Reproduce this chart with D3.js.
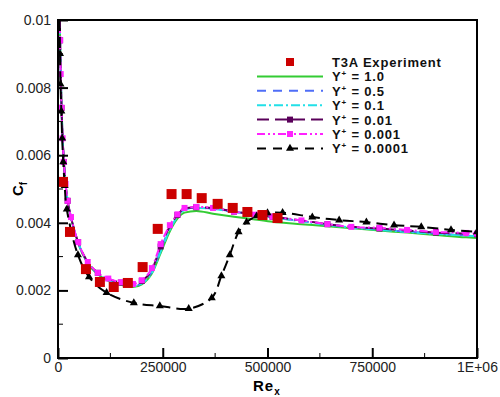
<!DOCTYPE html>
<html><head><meta charset="utf-8">
<script src="https://cdn.jsdelivr.net/npm/d3@7/dist/d3.min.js"></script>
<style>body{margin:0;background:#fff}svg{display:block}</style>
</head><body>
<svg id="c" width="500" height="397"></svg>
<script>
// ---- data (Cf values in units of 1e-3) ----
const expRe = [11900, 28600, 66700, 100000, 133000, 166700, 202000, 238000, 271000, 307000, 343000, 381000, 417000, 452000, 488000, 524000];
const expCf = [5.21, 3.73, 2.63, 2.25, 2.10, 2.22, 2.69, 3.82, 4.85, 4.85, 4.73, 4.56, 4.44, 4.32, 4.23, 4.14];

const famRe = [4400, 5000, 6500, 8500, 11000, 14000, 18000, 23000, 31000, 48000, 71000, 95000, 120000, 150000, 179000, 200000, 224000, 245000, 267000, 285000, 302000, 330000, 370000, 420000, 470000, 512000, 581000, 643000, 700000, 767000, 833000, 902000, 974000, 1000000];
const cfY1     = [10.0, 9.4, 8.4, 7.4, 6.5, 5.8, 5.15, 4.65, 4.15, 3.40, 2.80, 2.48, 2.28, 2.16, 2.10, 2.18, 2.50, 3.10, 3.75, 4.12, 4.30, 4.35, 4.27, 4.18, 4.10, 4.03, 3.96, 3.90, 3.84, 3.77, 3.71, 3.64, 3.57, 3.55];
const cfY05    = [10.0, 9.4, 8.4, 7.4, 6.5, 5.8, 5.15, 4.65, 4.16, 3.42, 2.82, 2.50, 2.31, 2.19, 2.12, 2.22, 2.55, 3.20, 3.85, 4.22, 4.40, 4.45, 4.42, 4.33, 4.24, 4.17, 4.05, 3.95, 3.87, 3.80, 3.74, 3.68, 3.63, 3.61];
const cfY01    = [10.0, 9.4, 8.4, 7.4, 6.5, 5.8, 5.15, 4.65, 4.16, 3.42, 2.82, 2.50, 2.31, 2.19, 2.12, 2.21, 2.52, 3.15, 3.80, 4.18, 4.38, 4.44, 4.41, 4.32, 4.23, 4.16, 4.04, 3.94, 3.86, 3.79, 3.73, 3.67, 3.62, 3.60];
const cfY001   = [10.0, 9.4, 8.4, 7.4, 6.5, 5.8, 5.15, 4.65, 4.17, 3.43, 2.84, 2.52, 2.34, 2.23, 2.18, 2.28, 2.60, 3.30, 3.90, 4.23, 4.42, 4.46, 4.44, 4.33, 4.25, 4.18, 4.07, 3.96, 3.88, 3.83, 3.77, 3.71, 3.68, 3.66];
const cfY0001  = [10.0, 9.4, 8.4, 7.4, 6.5, 5.8, 5.15, 4.65, 4.17, 3.43, 2.84, 2.52, 2.35, 2.24, 2.19, 2.30, 2.66, 3.37, 3.93, 4.25, 4.44, 4.47, 4.44, 4.33, 4.24, 4.18, 4.07, 3.96, 3.88, 3.85, 3.79, 3.73, 3.70, 3.68];

const blkRe = [4000, 4800, 6000, 8000, 10000, 12500, 16000, 21000, 47600, 74000, 116000, 181000, 243000, 312000, 367000, 390000, 410000, 431000, 450000, 474000, 500000, 536000, 607000, 671000, 736000, 802000, 867000, 938000, 1000000];
const blkCf = [10.0, 9.0, 8.1, 7.3, 6.5, 5.8, 5.1, 4.4, 3.05, 2.40, 1.93, 1.63, 1.54, 1.46, 1.78, 2.43, 3.05, 3.73, 4.02, 4.20, 4.29, 4.30, 4.17, 4.08, 4.02, 3.93, 3.88, 3.79, 3.73];

const xTicks = [0, 250000, 500000, 750000, 1000000];
const xTickLabels = ["0", "250000", "500000", "750000", "1E+06"];
const yTicks = [0, 0.002, 0.004, 0.006, 0.008, 0.01];
const yTickLabels = ["0", "0.002", "0.004", "0.006", "0.008", "0.01"];
const legendLabels = ["T3A Experiment", "1.0", "0.5", "0.1", "0.01", "0.001", "0.0001"];

// ---- layout ----
const L = 58, R = 477, T = 20, B = 358;
const svg = d3.select("#c");
const x = d3.scaleLinear().domain([0, 1e6]).range([L, R]);
const y = d3.scaleLinear().domain([0, 0.01]).range([B, T]);
const font = "Arial, 'Liberation Sans', Helvetica, sans-serif";

svg.append("clipPath").attr("id", "pc").append("rect")
  .attr("x", L).attr("y", T).attr("width", R - L).attr("height", B - T);

const series = [
  {cf: cfY1,    color: "#33cc33", dash: null,            marker: null},
  {cf: cfY05,   color: "#4f6ef7", dash: "9,7",           marker: null},
  {cf: cfY01,   color: "#22e0e8", dash: "9,3,2,3",       marker: null},
  {cf: cfY001,  color: "#5a005a", dash: "12,6",          marker: "sq", every: 2, offset: 1},
  {cf: cfY0001, color: "#ff22ff", dash: "8,3,2,3,2,3",   marker: "sq", every: 1, offset: 0},
];

const g = svg.append("g").attr("clip-path", "url(#pc)");
const line = d3.line().curve(d3.curveMonotoneX);

series.forEach(s => {
  const pts = famRe.map((r, i) => [x(r), y(s.cf[i] * 1e-3)]);
  g.append("path").attr("d", line(pts)).attr("fill", "none")
    .attr("stroke", s.color).attr("stroke-width", 2)
    .attr("stroke-dasharray", s.dash);
});
series.forEach(s => {
  if (!s.marker) return;
  famRe.forEach((r, i) => {
    if (s.cf[i] >= 9.9 || (i % s.every) !== s.offset) return;
    g.append("rect").attr("x", x(r) - 3).attr("y", y(s.cf[i] * 1e-3) - 3)
      .attr("width", 6).attr("height", 6).attr("fill", s.color);
  });
});

// black series
const bpts = blkRe.map((r, i) => [x(r), y(blkCf[i] * 1e-3)]);
g.append("path").attr("d", d3.line().curve(d3.curveCatmullRom)(bpts)).attr("fill", "none")
  .attr("stroke", "#000").attr("stroke-width", 2).attr("stroke-dasharray", "11,6");
const tri = d3.symbol().type(d3.symbolTriangle).size(28);
blkRe.forEach((r, i) => {
  if (blkCf[i] >= 9.9) return;
  g.append("path").attr("d", tri()).attr("transform", `translate(${x(r)},${y(blkCf[i] * 1e-3)})`).attr("fill", "#000");
});

// experiment squares
expRe.forEach((r, i) => {
  g.append("rect").attr("x", x(r) - 5).attr("y", y(expCf[i] * 1e-3) - 5)
    .attr("width", 10).attr("height", 10).attr("fill", "#cc0000");
});

// frame
svg.append("rect").attr("x", L).attr("y", T).attr("width", R - L).attr("height", B - T)
  .attr("fill", "none").attr("stroke", "#000").attr("stroke-width", 2);

// ticks (inward)
const xAxis = d3.axisBottom(x).tickValues(xTicks).tickSize(-10).tickFormat((d, i) => xTickLabels[i]).tickPadding(4);
const gx = svg.append("g").attr("transform", `translate(0,${B})`).call(xAxis);
const yAxis = d3.axisLeft(y).tickValues(yTicks).tickSize(-10).tickFormat((d, i) => yTickLabels[i]).tickPadding(7);
const gy = svg.append("g").attr("transform", `translate(${L},0)`).call(yAxis);
[gx, gy].forEach(a => {
  a.select(".domain").remove();
  a.selectAll("line").attr("stroke", "#000").attr("stroke-width", 2);
  a.selectAll("text").attr("font-family", font).attr("font-size", 14).attr("fill", "#222");
});
// minor ticks
const xMinor = d3.range(125000, 1e6, 250000);
svg.append("g").selectAll("line").data(xMinor).join("line")
  .attr("x1", d => x(d)).attr("x2", d => x(d)).attr("y1", B).attr("y2", B - 5)
  .attr("stroke", "#000").attr("stroke-width", 1);
const yMinor = d3.range(0.001, 0.01, 0.002);
svg.append("g").selectAll("line").data(yMinor).join("line")
  .attr("y1", d => y(d)).attr("y2", d => y(d)).attr("x1", L).attr("x2", L + 5)
  .attr("stroke", "#000").attr("stroke-width", 1);

// axis titles
const xt = svg.append("text").attr("x", 253).attr("y", 391).attr("font-family", font)
  .attr("font-size", 15).attr("font-weight", "bold").attr("letter-spacing", 1);
xt.append("tspan").text("Re");
xt.append("tspan").attr("font-size", 10).attr("dy", 4).text("x");
const yt = svg.append("text").attr("transform", "translate(23,196) rotate(-90)").attr("font-family", font)
  .attr("font-size", 15).attr("font-weight", "bold");
yt.append("tspan").text("C");
yt.append("tspan").attr("font-size", 10).attr("dy", 4).text("f");

// legend
const lg = svg.append("g");
const rowY = d => 62 + d * 14.4;
const lx1 = 257, lx2 = 323, tx = 332;
lg.append("rect").attr("x", 290 - 4).attr("y", rowY(0) - 4).attr("width", 8).attr("height", 8).attr("fill", "#cc0000");
series.forEach((s, k) => {
  const yy = rowY(k + 1);
  lg.append("line").attr("x1", lx1).attr("x2", lx2).attr("y1", yy).attr("y2", yy)
    .attr("stroke", s.color).attr("stroke-width", 2).attr("stroke-dasharray", s.dash);
  if (s.marker) lg.append("rect").attr("x", 290 - 3).attr("y", yy - 3).attr("width", 6).attr("height", 6).attr("fill", s.color);
});
{
  const yy = rowY(6);
  lg.append("line").attr("x1", lx1).attr("x2", lx2).attr("y1", yy).attr("y2", yy)
    .attr("stroke", "#000").attr("stroke-width", 2).attr("stroke-dasharray", "9,7");
  lg.append("path").attr("d", tri()).attr("transform", `translate(290,${yy})`).attr("fill", "#000");
}
legendLabels.forEach((t, k) => {
  const tt = lg.append("text").attr("x", tx).attr("y", rowY(k) + 5).attr("font-family", font)
    .attr("font-size", 13).attr("font-weight", "bold").attr("letter-spacing", 0.8).attr("fill", "#111");
  if (k === 0) { tt.text(t); return; }
  tt.append("tspan").text("Y");
  tt.append("tspan").attr("font-size", 8).attr("dy", -5).text("+");
  tt.append("tspan").attr("dy", 5).text(" = " + t);
});
</script>
</body></html>
